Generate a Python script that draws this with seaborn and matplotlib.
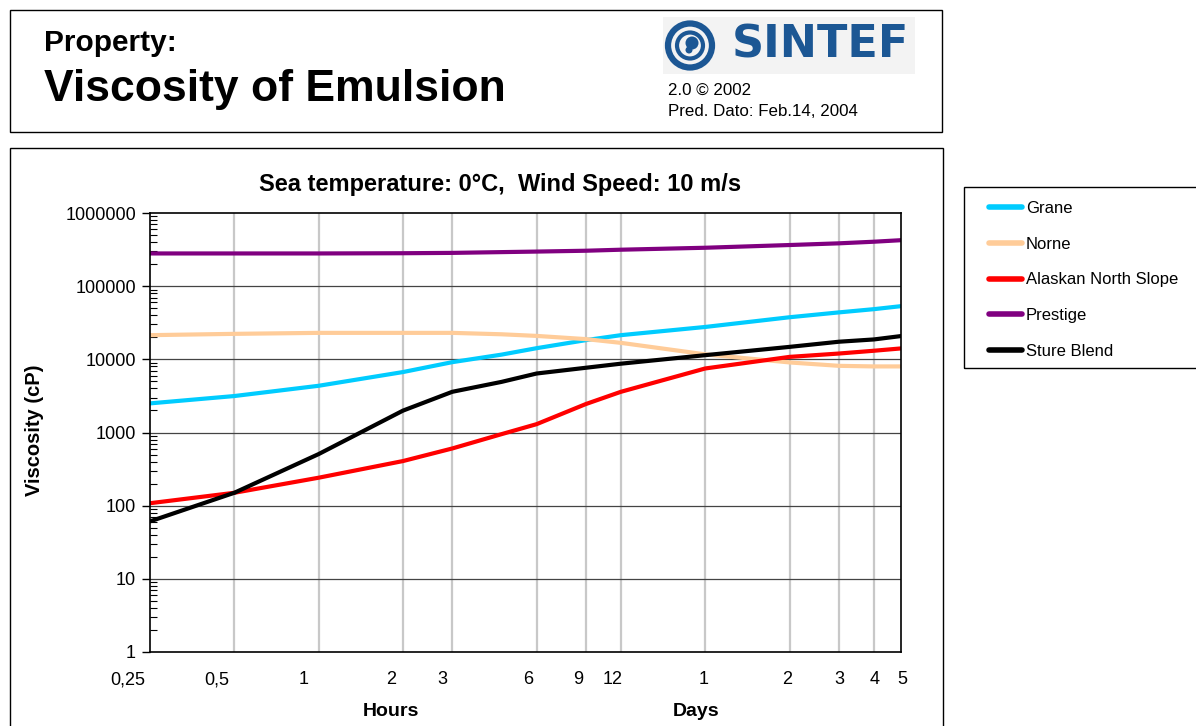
import numpy as np
import pandas as pd
import matplotlib
matplotlib.use("Agg")
import matplotlib.pyplot as plt
import matplotlib.transforms as mtransforms
from matplotlib.patches import Rectangle, Circle
import seaborn as sns

# time axis in hours (cP)
hours = [0.25, 0.5, 1, 2, 3, 4.5, 6, 9, 12, 24, 48, 72, 96, 120]
grane = [2500, 3150, 4350, 6700, 9150, 11600, 14200, 18300, 21400, 27700, 37600, 43800, 48500, 53300]
norne = [21400, 22300, 23000, 23000, 23000, 22000, 20900, 18900, 16800, 11700, 9070, 8150, 8000, 8000]
alaskan = [108, 150, 241, 407, 605, 950, 1300, 2450, 3600, 7500, 10800, 12000, 13100, 14100]
prestige = [280000, 280000, 280000, 282000, 285000, 292000, 297000, 305000, 315000, 335000, 365000, 385000, 405000, 425000]
sture = [61, 150, 507, 1990, 3600, 4920, 6400, 7670, 8720, 11400, 14800, 17400, 18700, 20800]

oils = ["Grane", "Norne", "Alaskan North Slope", "Prestige", "Sture Blend"]
colors = ["#00ccff", "#ffcc99", "#ff0000", "#800080", "#000000"]

xtick_hours = [0.25, 0.5, 1, 2, 3, 6, 9, 12, 24, 48, 72, 96, 120]
xtick_labels = ["0,25", "0,5", "1", "2", "3", "6", "9", "12", "1", "2", "3", "4", "5"]
ytick_vals = [1, 10, 100, 1000, 10000, 100000, 1000000]

df = pd.concat([
    pd.DataFrame({"hours": hours, "viscosity": vals, "oil": name})
    for name, vals in zip(oils, [grane, norne, alaskan, prestige, sture])
])

sns.set_theme(style="white")
plt.rcParams["font.family"] = ["Liberation Sans", "DejaVu Sans"]
plt.rcParams["text.color"] = "black"
plt.rcParams["xtick.color"] = "black"
plt.rcParams["ytick.color"] = "black"

W, H = 1196, 726
fig = plt.figure(figsize=(W / 100, H / 100), dpi=100)


def fbox(x0, y0, x1, y1):
    # pixel box (top-left origin) -> figure fraction rect
    return [x0 / W, 1 - y1 / H, (x1 - x0) / W, (y1 - y0) / H]


ax = fig.add_axes(fbox(150, 213, 901, 652))

sns.lineplot(data=df, x="hours", y="viscosity", hue="oil", hue_order=oils,
             palette=dict(zip(oils, colors)), linewidth=3.0, ax=ax, legend=False)

ax.set_xscale("log")
ax.set_yscale("log")
ax.set_xlim(0.25, 120)
ax.set_ylim(1, 1000000)

# grid: grey verticals at the time ticks, dark horizontals at decades
for h in xtick_hours[1:-1]:
    ax.axvline(h, color="#c8c8c8", lw=1.6, zorder=0)
for v in ytick_vals[1:-1]:
    ax.axhline(v, color="#444444", lw=0.9, zorder=0)

ax.set_xticks(xtick_hours)
ax.set_xticklabels(xtick_labels, fontsize=13)
ax.xaxis.set_minor_locator(matplotlib.ticker.NullLocator())
ax.tick_params(axis="x", length=0, pad=14)
label_shift = [-22, -18, -15, -12, -10, -8, -8, -8, -2, -2, 0, 1, 1]
for lab, dx in zip(ax.get_xticklabels(), label_shift):
    lab.set_transform(lab.get_transform() + mtransforms.ScaledTranslation(dx / 100, 0, fig.dpi_scale_trans))

ax.set_yticks(ytick_vals)
ax.set_yticklabels([str(v) for v in ytick_vals], fontsize=13)
ax.yaxis.set_minor_locator(matplotlib.ticker.LogLocator(base=10, subs=np.arange(2, 10), numticks=20))
ax.yaxis.set_minor_formatter(matplotlib.ticker.NullFormatter())
ax.tick_params(axis="y", which="major", direction="out", length=6, width=1, color="black", pad=4, left=True)
ax.tick_params(axis="y", which="minor", direction="in", length=5, width=0.8, color="black", left=True)
ax.set_xlabel("")
ax.set_ylabel("")
for s in ax.spines.values():
    s.set_color("black")
    s.set_linewidth(1.2)

# texts in chart frame
fig.text(500 / W, 1 - 185 / H, "Sea temperature: 0°C,  Wind Speed: 10 m/s",
         fontsize=17, fontweight="bold", ha="center", va="center")
fig.text(35 / W, 1 - 430 / H, "Viscosity (cP)", fontsize=14.5, fontweight="bold",
         rotation=90, ha="center", va="center")
fig.text(391 / W, 1 - 712 / H, "Hours", fontsize=14, fontweight="bold", ha="center", va="center")
fig.text(696 / W, 1 - 712 / H, "Days", fontsize=14, fontweight="bold", ha="center", va="center")

# frames
for box in [(10, 10, 942, 132), (10, 148, 943, 740), (964, 187, 1200, 368)]:
    r = fbox(*box)
    fig.add_artist(Rectangle((r[0], r[1]), r[2], r[3], transform=fig.transFigure,
                             fill=False, edgecolor="black", lw=1.0))

# legend
handles = [matplotlib.lines.Line2D([], [], color=c, lw=4, solid_capstyle="round") for c in colors]
fig.legend(handles, oils, loc="upper left", bbox_to_anchor=(989 / W, 1 - 201 / H),
           frameon=False, fontsize=12, handlelength=2.0, handletextpad=0.2,
           labelspacing=1.24, borderpad=0, borderaxespad=0)

# header
fig.text(44 / W, 1 - 43 / H, "Property:", fontsize=21.5, fontweight="bold", va="center")
fig.text(44 / W, 1 - 89 / H, "Viscosity of Emulsion", fontsize=32, fontweight="bold", va="center")
fig.text(668 / W, 1 - 90 / H, "2.0 © 2002", fontsize=12.2, va="center")
fig.text(668 / W, 1 - 111 / H, "Pred. Dato: Feb.14, 2004", fontsize=12.2, va="center")

# SINTEF logo
navy = "#1c5794"
lax = fig.add_axes(fbox(663, 17, 915, 74))
lax.set_xlim(0, 252)
lax.set_ylim(0, 57)
lax.axis("off")
lax.add_patch(Rectangle((0, 0), 252, 57, facecolor="#f3f3f3", edgecolor="none"))
lax.add_patch(Circle((27, 28.5), 22, fill=False, edgecolor=navy, lw=4.5))
lax.add_patch(Circle((27, 28.5), 13, fill=False, edgecolor=navy, lw=3))
lax.add_patch(Circle((29, 31), 6.5, facecolor=navy, edgecolor="none"))
lax.add_patch(Circle((26, 24), 3.5, facecolor=navy, edgecolor="none"))
lax.text(69, 29, "SINTEF", fontsize=32, fontweight="bold", color=navy,
         family="DejaVu Sans", va="center")

fig.savefig("out.png", dpi=100)
